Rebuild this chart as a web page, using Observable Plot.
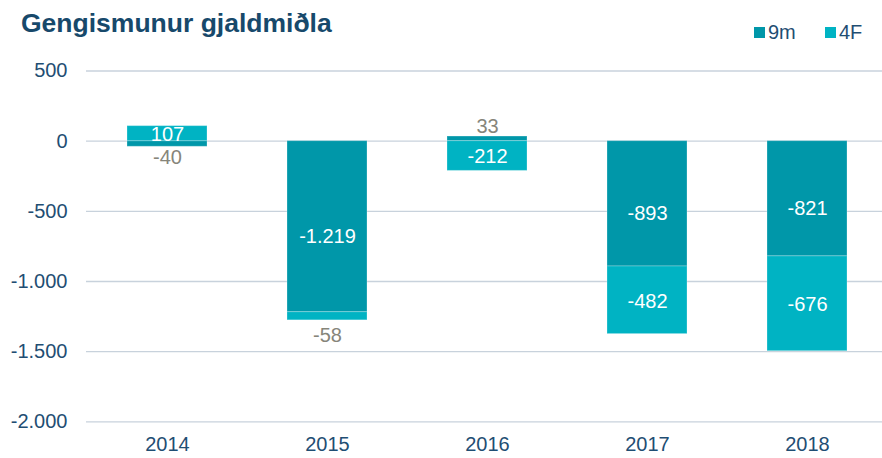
<!DOCTYPE html>
<html>
<head>
<meta charset="utf-8">
<script src="https://cdn.jsdelivr.net/npm/d3@7"></script>
<script src="https://cdn.jsdelivr.net/npm/@observablehq/plot@0.6"></script>
<style>
  html, body { margin: 0; padding: 0; background: #fff; }
  body { font-family: Arial, "Liberation Sans", sans-serif; width: 882px; height: 458px; overflow: hidden; }
  #header { position: relative; height: 50px; }
  #title { position: absolute; left: 21px; top: 10px; font-size: 26.5px; line-height: 26.5px; font-weight: bold; color: #17496b; }
  .lg { position: absolute; top: 22px; font-size: 20px; line-height: 20px; color: #1f4e73; display: flex; align-items: center; }
  .lg span.sw { display: inline-block; width: 11px; height: 11px; margin-right: 3px; }
</style>
</head>
<body>
<div id="header">
  <div id="title">Gengismunur gjaldmiðla</div>
  <div class="lg" style="left:754px"><span class="sw" style="background:#0097a9"></span>9m</div>
  <div class="lg" style="left:825px"><span class="sw" style="background:#00b3c3"></span>4F</div>
</div>
<div id="chart"></div>
<script>
const years = ["2014", "2015", "2016", "2017", "2018"];
const seriesNames = ["9m", "4F"];
const values9m = [-40, -1219, 33, -893, -821];
const values4F = [107, -58, -212, -482, -676];
const yTicks = [500, 0, -500, -1000, -1500, -2000];

const colors = ["#0097a9", "#00b3c3"];

const data = [];
years.forEach((y, i) => data.push({year: y, series: "9m", value: values9m[i]}));
years.forEach((y, i) => data.push({year: y, series: "4F", value: values4F[i]}));

const locale = d3.formatLocale({decimal: ",", thousands: ".", grouping: [3], currency: ["", ""], minus: "-"});
const fmt = locale.format(",d");

const isOutside = d => Math.abs(d.value) < 100;
const labelFor = (ser, pred) => d => (d.series === ser && pred(d)) ? fmt(d.value) : "";

const stackOpts = {x: "year", y: "value", z: "series", order: seriesNames};
const FS = 20;

const chart = Plot.plot({
  width: 882,
  height: 408,
  marginTop: 20.5,
  marginBottom: 36.7,
  marginLeft: 86,
  marginRight: 0,
  style: {fontFamily: 'Arial, "Liberation Sans", sans-serif', background: "#fff"},
  x: {domain: years, range: [86.7, 886.7], paddingInner: 0.5, paddingOuter: 0.25, label: null},
  y: {domain: [-2000, 500], label: null},
  color: {domain: seriesNames, range: colors},
  marks: [
    Plot.ruleY(yTicks, {stroke: "#c8d2dc", strokeWidth: 1.3}),
    Plot.barY(data, Plot.stackY({...stackOpts, fill: "series", stroke: "#ffffff", strokeOpacity: 0.25, strokeWidth: 1})),
    // inside labels
    Plot.text(data, Plot.stackY({...stackOpts, text: labelFor("9m", d => !isOutside(d)), fill: "#ffffff", fontSize: FS, dy: 10})),
    Plot.text(data, Plot.stackY({...stackOpts, text: labelFor("4F", d => !isOutside(d)), fill: "#ffffff", fontSize: FS, dy: 1})),
    // outside labels (small segments)
    Plot.text(data, Plot.stackY2({...stackOpts, text: labelFor("9m", d => isOutside(d) && d.value < 0), fill: "#86857a", fontSize: FS, dy: 11})),
    Plot.text(data, Plot.stackY2({...stackOpts, text: labelFor("9m", d => isOutside(d) && d.value > 0), fill: "#86857a", fontSize: FS, dy: -10})),
    Plot.text(data, Plot.stackY2({...stackOpts, text: labelFor("4F", d => isOutside(d) && d.value < 0), fill: "#86857a", fontSize: FS, dy: 15})),
    Plot.text(data, Plot.stackY2({...stackOpts, text: labelFor("4F", d => isOutside(d) && d.value > 0), fill: "#86857a", fontSize: FS, dy: -10})),
    Plot.axisY({ticks: yTicks, tickSize: 0, tickPadding: 19, tickFormat: fmt, fontSize: 20, color: "#1f4e73", label: null}),
    Plot.axisX({tickSize: 0, tickPadding: 15, fontSize: 20, color: "#1f4e73", label: null})
  ]
});
document.getElementById("chart").appendChild(chart);
</script>
</body>
</html>
